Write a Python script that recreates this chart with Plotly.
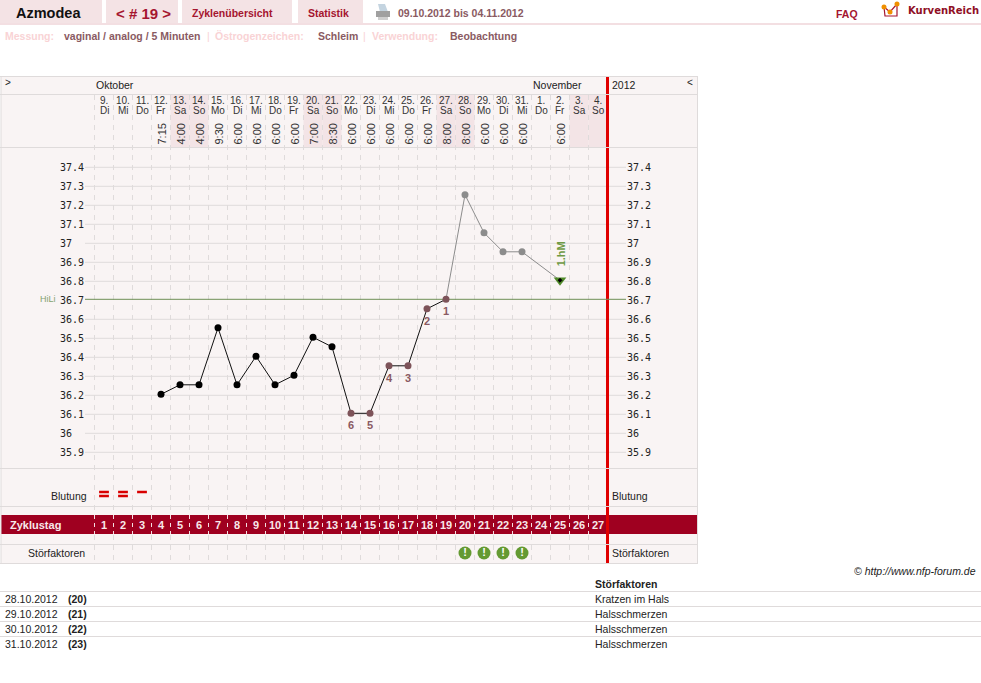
import plotly.graph_objects as go

WIDTH, HEIGHT = 981, 683

# Cycle data
cycle_days = list(range(1, 28))
dates = ["9.", "10.", "11.", "12.", "13.", "14.", "15.", "16.", "17.", "18.", "19.", "20.", "21.", "22.",
         "23.", "24.", "25.", "26.", "27.", "28.", "29.", "30.", "31.", "1.", "2.", "3.", "4."]
weekdays = ["Di", "Mi", "Do", "Fr", "Sa", "So", "Mo", "Di", "Mi", "Do", "Fr", "Sa", "So", "Mo",
            "Di", "Mi", "Do", "Fr", "Sa", "So", "Mo", "Di", "Mi", "Do", "Fr", "Sa", "So"]
times = ["", "", "", "7:15", "4:00", "4:00", "9:30", "6:00", "6:00", "6:00", "6:00", "7:00", "8:30", "6:00",
         "6:00", "6:00", "6:00", "6:00", "8:00", "8:00", "6:00", "6:00", "6:00", "", "6:00", "", ""]
weekend_days = [5, 6, 12, 13, 19, 20, 26, 27]

early_days = [4, 5, 6, 7, 8, 9, 10, 11, 12, 13]
early_temps = [36.2, 36.25, 36.25, 36.55, 36.25, 36.4, 36.25, 36.3, 36.5, 36.45]
low_days = [14, 15, 16, 17, 18, 19]
low_temps = [36.1, 36.1, 36.35, 36.35, 36.65, 36.7]
low_numbers = ["6", "5", "4", "3", "2", "1"]
high_days = [20, 21, 22, 23, 25]
high_temps = [37.25, 37.05, 36.95, 36.95, 36.8]
peak_day = [25]
peak_temp = [36.8]
cover_line = 36.7

temp_ticks = [37.4, 37.3, 37.2, 37.1, 37.0, 36.9, 36.8, 36.7, 36.6, 36.5, 36.4, 36.3, 36.2, 36.1, 36.0, 35.9]
temp_labels = ["37.4", "37.3", "37.2", "37.1", "37", "36.9", "36.8", "36.7", "36.6", "36.5", "36.4",
               "36.3", "36.2", "36.1", "36", "35.9"]

bleed_days = [1, 2, 3]
bleed_strength = [2, 2, 1]
disturbance_days = [20, 21, 22, 23]

table_dates = ["28.10.2012", "29.10.2012", "30.10.2012", "31.10.2012"]
table_cycle = ["(20)", "(21)", "(22)", "(23)"]
table_notes = ["Kratzen im Hals", "Halsschmerzen", "Halsschmerzen", "Halsschmerzen"]

# Palette
TAB = "#f4e3e5"
PANEL = "#f9f4f4"
RULE = "#dfdbdb"
CRIMSON = "#a5152f"
BAND = "#9f0020"
RED = "#e00000"
MAUVE = "#8a5a62"
PINK = "#f9d3d5"
GREEN = "#649a32"
SANS = "Liberation Sans"
NARROW = "Liberation Sans Narrow, Liberation Sans"

# One day is 19 px wide, 0.1 degrees is 19 px high
day_range = [1 - 104 / 19, 1 + (WIDTH - 104) / 19]
temp_range = [37.4 - (HEIGHT - 166.3) / 190, 37.4 + 166.3 / 190]
# Grid rules and their labels sit one pixel below the plotted values
GRID_OFFSET = 1 / 190


def px_x(x):
    return x / WIDTH


def px_y(y):
    return 1 - y / HEIGHT


shapes = []
annotations = []


def rect(x0, y0, x1, y1, color, layer="below"):
    shapes.append(dict(type="rect", xref="paper", yref="paper", x0=px_x(x0), x1=px_x(x1),
                       y0=px_y(y0), y1=px_y(y1), fillcolor=color, line_width=0, layer=layer))


def hline(y, x0, x1, color=RULE, width=1, layer="below"):
    shapes.append(dict(type="line", xref="paper", yref="paper", x0=px_x(x0), x1=px_x(x1),
                       y0=px_y(y), y1=px_y(y), line=dict(color=color, width=width), layer=layer))


def label(text, x, y, size=10.5, color="#222222", bold=False, italic=False, anchor="left", family=SANS, angle=0):
    if bold:
        text = f"<b>{text}</b>"
    if italic:
        text = f"<i>{text}</i>"
    # Annotation boxes keep a pixel of side bearing; pull it back at the anchored edge
    nudge = {"left": -1, "right": 1}.get(anchor, 0)
    annotations.append(dict(text=text, xref="paper", yref="paper",
                            x=px_x(x + nudge), y=px_y(y), xanchor=anchor, yanchor="middle", showarrow=False,
                            borderpad=0, textangle=angle, font=dict(family=family, size=size, color=color)))


def column_label(text, day, y, size, color, angle=0, family=SANS):
    annotations.append(dict(text=text, xref="x", yref="paper", x=day, y=px_y(y), xanchor="center", yanchor="middle",
                            showarrow=False, borderpad=0, textangle=angle,
                            font=dict(family=family, size=size, color=color)))


# Page header
for x0, x1 in [(0, 102), (106, 178), (182, 292), (298, 363)]:
    rect(x0, 0, x1, 23, TAB)
rect(0, 23, WIDTH, 25, "#f3dfe2")
label("Azmodea", 48, 13, size=14.5, color="#111111", bold=True, anchor="center")
label("&lt; # 19 &gt;", 143, 13, size=15, color=CRIMSON, bold=True, anchor="center")
label("Zyklenübersicht", 232.5, 13, color=CRIMSON, bold=True, anchor="center")
label("Statistik", 328.5, 13, color=CRIMSON, bold=True, anchor="center")
label("09.10.2012 bis 04.11.2012", 398, 13, color=MAUVE, bold=True)
label("FAQ", 836, 14, color=CRIMSON, bold=True)
label("KurvenReich", 908, 11, size=10, color="#8f0f25", bold=True, family="DejaVu Sans")

label("Messung:", 5, 36, color=PINK, bold=True)
label("vaginal / analog / 5 Minuten", 64, 36, color=MAUVE, bold=True)
label("|", 207, 36, color=PINK)
label("Östrogenzeichen:", 215, 36, color=PINK, bold=True)
label("Schleim", 318, 36, color=MAUVE, bold=True)
label("|", 363, 36, color=PINK)
label("Verwendung:", 372, 36, color=PINK, bold=True)
label("Beobachtung", 450, 36, color=MAUVE, bold=True)

# Printer icon
shapes.append(dict(type="path", xref="paper", yref="paper", layer="below", fillcolor="#c4d4e0", line_width=0,
                   path=f"M {px_x(378)} {px_y(4)} L {px_x(385)} {px_y(4)} L {px_x(388)} {px_y(12)} L {px_x(380)} {px_y(12)} Z"))
rect(376, 11, 390, 17, "#a0a0a0")
rect(378, 17, 388, 20, "#cfcfcf")

# Logo
shapes.append(dict(type="path", xref="paper", yref="paper", layer="above",
                   path=f"M {px_x(884)} {px_y(7)} L {px_x(885)} {px_y(16)} L {px_x(897)} {px_y(16)} L {px_x(897)} {px_y(4)}",
                   line=dict(color=CRIMSON, width=1.2)))
shapes.append(dict(type="path", xref="paper", yref="paper", layer="above",
                   path=f"M {px_x(884)} {px_y(7)} L {px_x(890)} {px_y(12)} L {px_x(897)} {px_y(4)}",
                   line=dict(color=CRIMSON, width=1.2)))
for cx, cy in [(884, 7), (890, 12), (897, 4)]:
    shapes.append(dict(type="circle", xref="paper", yref="paper", layer="above",
                       x0=px_x(cx - 2.5), x1=px_x(cx + 2.5), y0=px_y(cy + 2.5), y1=px_y(cy - 2.5),
                       fillcolor="#f09000", line_width=0))

# Chart panel and the weekend columns
rect(1, 76, 697, 563, PANEL)
for d in weekend_days:
    rect(94.5 + 19 * (d - 1), 95, 94.5 + 19 * d, 147, "#f3e4e6")

# Temperature grid; the cover line takes the place of its own rule
for t in temp_ticks:
    if t == cover_line:
        continue
    shapes.append(dict(type="line", xref="paper", yref="y", x0=px_x(85), x1=px_x(626),
                       y0=t - GRID_OFFSET, y1=t - GRID_OFFSET, line=dict(color=RULE, width=1), layer="below"))

# Dashed column rules
for d in range(0, 27):
    shapes.append(dict(type="line", xref="x", yref="paper", x0=d + 0.5, x1=d + 0.5,
                       y0=px_y(95), y1=px_y(563), line=dict(color=RULE, width=1, dash="5px,5px"), layer="below"))

# Cycle-day band
rect(1, 515, 697, 534, BAND)
for d in range(0, 27):
    shapes.append(dict(type="line", xref="x", yref="paper", x0=d + 0.5, x1=d + 0.5,
                       y0=px_y(515), y1=px_y(534), line=dict(color="#f4dfe2", width=1, dash="4px,4px"), layer="below"))

# Cycle divider
rect(606, 76, 609, 563, RED)

# Panel rules
for y in [76, 94, 147, 468, 506, 544, 563]:
    hline(y + 0.5, 0, 698, width=1)
for x in [1, 697.5]:
    shapes.append(dict(type="line", xref="paper", yref="paper", x0=px_x(x), x1=px_x(x),
                       y0=px_y(76), y1=px_y(563), line=dict(color=RULE, width=1), layer="below"))

# Cover line
shapes.append(dict(type="line", xref="paper", yref="y", x0=px_x(85), x1=px_x(626), y0=cover_line, y1=cover_line,
                   line=dict(color="#6f8f55", width=1), layer="below"))

# Panel header and row captions
label("&gt;", 5, 83, size=10)
label("Oktober", 96, 85)
label("November", 533, 85)
label("2012", 612, 85)
label("&lt;", 687, 83, size=10)
label("HiLi", 40, 299, size=9, color="#84a370")
label("Blutung", 87, 496, anchor="right")
label("Blutung", 612, 496)
label("Zyklustag", 10, 525, size=11, color="#f8e8ea", bold=True)
label("Störfaktoren", 85, 553, anchor="right")
label("Störfaktoren", 612, 553)

# Temperature labels on both sides
for t, text in zip(temp_ticks, temp_labels):
    for x in (59, 626):
        annotations.append(dict(text=text, xref="paper", yref="y", x=px_x(x), y=t - GRID_OFFSET,
                                xanchor="left", yanchor="middle", showarrow=False, borderpad=0,
                                font=dict(family="DejaVu Sans Mono", size=10, color="#222222")))

# Dates, weekdays and measurement times per column
for d, date, wd, tm in zip(cycle_days, dates, weekdays, times):
    column_label(date, d, 100, 10, "#333333", family=NARROW)
    column_label(wd, d, 110.5, 10, "#333333", family=NARROW)
    if tm:
        column_label(tm, d, 134.5, 11, "#333333", angle=-90)
    column_label(f"<b>{d}</b>", d, 525, 11, "#f8e8ea")

# Rank numbers under the low temperatures
for d, t, n in zip(low_days, low_temps, low_numbers):
    annotations.append(dict(text=f"<b>{n}</b>", xref="x", yref="y", x=d, y=t, yshift=-12, showarrow=False, borderpad=0,
                            xanchor="center", yanchor="middle", font=dict(family=SANS, size=11, color=MAUVE)))

annotations.append(dict(text="<b>1.hM</b>", xref="x", yref="y", x=peak_day[0], y=peak_temp[0], yshift=26,
                        xshift=1, showarrow=False, xanchor="center", yanchor="middle",
                        borderpad=0, textangle=-90, font=dict(family=SANS, size=11, color="#6f9a45")))

# Copyright and the disturbance table
label("© http://www.nfp-forum.de", 976, 571, anchor="right", italic=True)
label("Störfaktoren", 595, 584, bold=True)
for y in [591.5, 606.5, 621.5, 636.5]:
    hline(y, 0, WIDTH, width=1)
for i, (dt, cyc, note) in enumerate(zip(table_dates, table_cycle, table_notes)):
    y = 599 + 15 * i
    label(dt, 5, y)
    label(cyc, 68, y, bold=True)
    label(note, 595, y)

fig = go.Figure()

# Temperature curve
fig.add_trace(go.Scatter(x=early_days + low_days, y=early_temps + low_temps, mode="lines",
                         line=dict(color="#111111", width=1)))
fig.add_trace(go.Scatter(x=low_days[-1:] + high_days, y=low_temps[-1:] + high_temps, mode="lines",
                         line=dict(color="#8c8c8c", width=1)))
fig.add_trace(go.Scatter(x=early_days, y=early_temps, mode="markers", marker=dict(color="#000000", size=7)))
fig.add_trace(go.Scatter(x=low_days, y=low_temps, mode="markers", marker=dict(color="#7d5359", size=7)))
fig.add_trace(go.Scatter(x=high_days[:-1], y=high_temps[:-1], mode="markers", marker=dict(color="#8c8c8c", size=7)))

# Peak day marker
fig.add_trace(go.Scatter(x=peak_day, y=peak_temp, mode="markers",
                         marker=dict(color="#4f8a28", size=11, symbol="triangle-down")))
fig.add_trace(go.Scatter(x=peak_day, y=peak_temp, mode="markers",
                         marker=dict(color="#000000", size=3, symbol="diamond", line=dict(color="#000000", width=1))))

# Bleeding marks: one stroke per strength step, placed on the pixel axis
bleed_x, bleed_y = [], []
for d, s in zip(bleed_days, bleed_strength):
    for step in range(s):
        bleed_x.append(d)
        bleed_y.append(492 + 4 * step)
fig.add_trace(go.Scatter(x=bleed_x, y=bleed_y, yaxis="y2", mode="markers",
                         marker=dict(symbol="line-ew", size=7, line=dict(color="#d80000", width=2.5))))

# Disturbance icons
fig.add_trace(go.Scatter(x=disturbance_days, y=[553] * len(disturbance_days), yaxis="y2", mode="markers+text",
                         marker=dict(color=GREEN, size=13), text=["<b>!</b>"] * len(disturbance_days),
                         textposition="middle center", textfont=dict(family=SANS, size=11, color="#ffffff")))

fig.update_layout(
    width=WIDTH, height=HEIGHT, margin=dict(l=0, r=0, t=0, b=0), autosize=False,
    paper_bgcolor="#ffffff", plot_bgcolor="rgba(0,0,0,0)", showlegend=False, hovermode=False,
    xaxis=dict(range=day_range, visible=False, fixedrange=True, domain=[0, 1]),
    yaxis=dict(range=temp_range, visible=False, fixedrange=True, domain=[0, 1]),
    yaxis2=dict(range=[HEIGHT, 0], visible=False, fixedrange=True, overlaying="y"),
    shapes=shapes, annotations=annotations,
)

fig.write_html("out.html", config=dict(displayModeBar=False))
